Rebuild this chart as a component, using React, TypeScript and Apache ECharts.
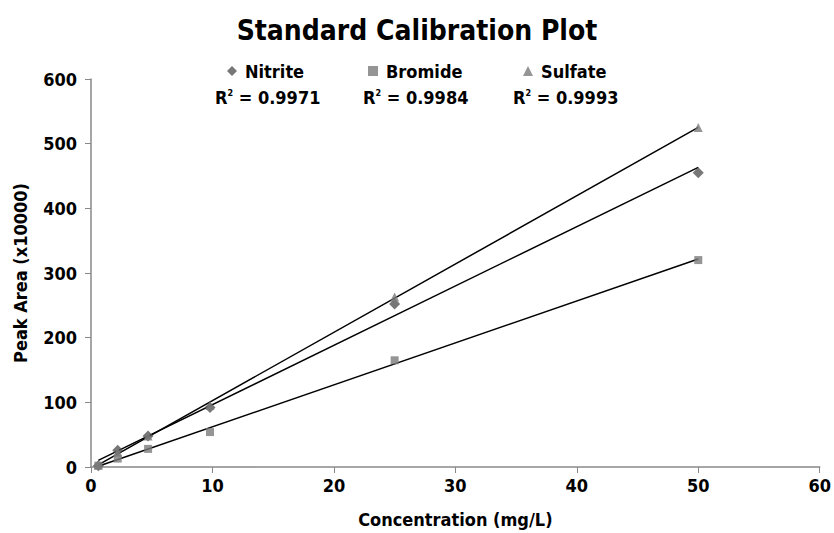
import React, { useEffect, useRef } from "react";
import * as echarts from "echarts";

const concentrations = [0.6, 2.2, 4.7, 9.8, 25, 50];
const nitrite = [2, 26, 48, 92, 252, 455];
const bromide = [2, 13, 28, 54, 165, 320];
const sulfate = [3, 23, 48, 95, 263, 525];
const seriesNames = ["Nitrite", "Bromide", "Sulfate"];
const rSquared = ["0.9971", "0.9984", "0.9993"];
const xTicks = [0, 10, 20, 30, 40, 50, 60];
const yTicks = [0, 100, 200, 300, 400, 500, 600];

const FONT = "'DejaVu Sans Condensed', 'Liberation Sans', Arial, sans-serif";

function fit(xs: number[], ys: number[]) {
  const n = xs.length;
  const mx = xs.reduce((a, b) => a + b, 0) / n;
  const my = ys.reduce((a, b) => a + b, 0) / n;
  let sxx = 0, sxy = 0;
  for (let i = 0; i < n; i++) {
    sxx += (xs[i] - mx) ** 2;
    sxy += (xs[i] - mx) * (ys[i] - my);
  }
  const slope = sxy / sxx;
  const intercept = my - slope * mx;
  const x0 = xs[0], x1 = xs[n - 1];
  return [[x0, intercept + slope * x0], [x1, intercept + slope * x1]];
}

export default function App() {
  const ref = useRef<HTMLDivElement>(null);
  useEffect(() => {
    if (!ref.current) return;
    const chart = echarts.init(ref.current, undefined, { renderer: "svg" });
    const datasets = [nitrite, bromide, sulfate];
    const symbols = ["diamond", "rect", "triangle"];
    const colors = ["#555555", "#7a7a7a", "#7a7a7a"];
    const sizes = [11, 8, 9];
    const series: any[] = [];
    datasets.forEach((d, i) => {
      series.push({
        type: "line",
        name: seriesNames[i] + " fit",
        data: fit(concentrations, d),
        showSymbol: false,
        symbol: "none",
        lineStyle: { color: "#000", width: 1.5 },
        z: 2,
        silent: true,
      });
    });
    datasets.forEach((d, i) => {
      series.push({
        type: "scatter",
        name: seriesNames[i],
        data: concentrations.map((x, j) => [x, d[j]]),
        symbol: symbols[i],
        symbolSize: sizes[i],
        itemStyle: { color: colors[i] },
        z: 3,
      });
    });
    const legendLefts = [222, 363, 518];
    const rLefts = [215, 363, 513];
    const txt = { fontFamily: FONT, fontWeight: "bold", color: "#000" };
    chart.setOption({
      animation: false,
      backgroundColor: "#fff",
      title: {
        text: "Standard Calibration Plot",
        left: "center",
        top: 11,
        textStyle: { ...txt, fontSize: 28 },
      },
      legend: seriesNames.map((n, i) => ({
        data: [{ name: n, icon: symbols[i] }],
        left: legendLefts[i],
        top: 57,
        itemWidth: 10,
        itemHeight: 10,
        itemGap: 6,
        textStyle: { ...txt, fontSize: 18, padding: [0, 0, 0, 3] },
      })),
      graphic: rSquared.map((r, i) => ({
        type: "text",
        left: rLefts[i],
        top: 88,
        style: {
          text: `{a|R}{s|2}{a| = ${r}}`,
          rich: {
            a: { fontFamily: FONT, fontWeight: "bold", fontSize: 18, fill: "#000", verticalAlign: "bottom" },
            s: { fontFamily: FONT, fontWeight: "bold", fontSize: 9, fill: "#000", verticalAlign: "top" },
          },
        },
      })),
      grid: { left: 91, top: 79, right: 11, bottom: 61 },
      xAxis: {
        type: "value",
        min: xTicks[0],
        max: xTicks[xTicks.length - 1],
        interval: 10,
        name: "Concentration (mg/L)",
        nameLocation: "middle",
        nameGap: 43,
        nameTextStyle: { ...txt, fontSize: 18 },
        axisLine: { lineStyle: { color: "#888", width: 1.5 } },
        axisTick: { show: true, length: 6, lineStyle: { color: "#888" } },
        axisLabel: { ...txt, fontSize: 18, margin: 9 },
        splitLine: { show: false },
      },
      yAxis: {
        type: "value",
        min: yTicks[0],
        max: yTicks[yTicks.length - 1],
        interval: 100,
        name: "Peak Area (x10000)",
        nameLocation: "middle",
        nameGap: 62,
        nameTextStyle: { ...txt, fontSize: 18 },
        axisLine: { show: true, lineStyle: { color: "#888", width: 1.5 } },
        axisTick: { show: true, length: 6, lineStyle: { color: "#888" } },
        axisLabel: { ...txt, fontSize: 18, margin: 14 },
        splitLine: { show: false },
      },
      series,
    });
    return () => chart.dispose();
  }, []);
  return <div ref={ref} style={{ width: 834, height: 533, position: "absolute", left: 0, top: 0 }} />;
}
